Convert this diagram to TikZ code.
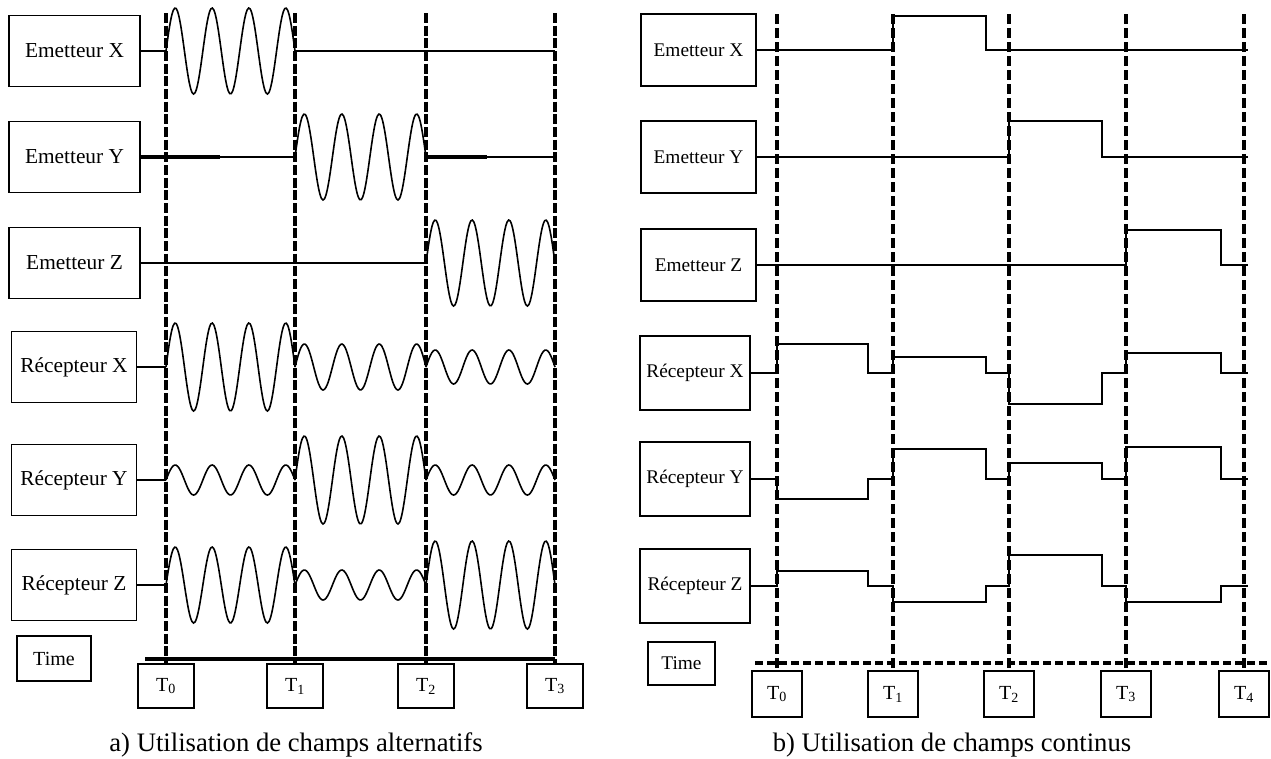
\documentclass[tikz,border=0pt]{standalone}
\usepackage{fontspec}
\setmainfont{Liberation Serif}

\begin{document}
\begin{tikzpicture}[x=0.75pt, y=-0.75pt,
        sig/.style={line width=1.2pt},
        heavy/.style={line width=2.6pt},
        box/.style={draw, line width=1.2pt, inner sep=0pt},
        lbox/.style={box, minimum height=53pt, font=\fontsize{16}{18}\selectfont},
        rbox/.style={box, minimum height=54pt, font=\fontsize{14.5}{17}\selectfont},
        tbox/.style={box, font=\fontsize{15}{17}\selectfont},
        tline/.style={line width=3pt, dash pattern=on 7.5pt off 2pt},
        captext/.style={font=\fontsize{20}{24}\selectfont, anchor=base}]
        \fill [white] (0,0) rectangle (1271,758);
        \useasboundingbox (0,0) rectangle (1271,758);
        % a) champs alternatifs
        \foreach \nm/\lab/\yc in {EX/Emetteur X/51, EY/Emetteur Y/157, EZ/Emetteur Z/263}
            \node [lbox, minimum width=98pt] (a\nm) at (74.5,\yc) {\lab};
        \foreach \nm/\lab/\yc in {RX/Récepteur X/367, RY/Récepteur Y/480, RZ/Récepteur Z/585}
            \node [lbox, minimum width=94pt] (a\nm) at (74,\yc) {\lab};
        \node [tbox, minimum width=55.5pt, minimum height=34pt] (aTime) at (54,658.5) {Time};
        \draw [line width=3pt] (145,659) -- (555,659);
        \foreach \k/\xx in {0/166, 1/295, 2/426, 3/555} {
            \node [tbox, minimum width=42pt, minimum height=33pt] (aT\k) at (\xx,686) {T\textsubscript{\k}};
            \coordinate (atop\k) at (\xx,13);
            \draw [tline] (atop\k) -- (aT\k.north);
        }
        \foreach \ta/\tb/\yc/\am in {166/295/51/43, 295/426/157/43, 426/555/263/43,
                166/295/367/44, 295/426/367/23, 426/555/367/17,
                166/295/480/15, 295/426/480/44, 426/555/480/15,
                166/295/585/38, 295/426/585/15, 426/555/585/44}
            \draw [sig] plot [domain=\ta:\tb, samples=90, smooth] (\x, {\yc-\am*sin(1260/(\tb-\ta)*(\x-\ta))});
        \draw [sig] (aEX.east) -- (166,51);
        \draw [sig] (295,51) -- (555,51);
        \draw [heavy] (aEY.east) -- (220,157);
        \draw [sig] (220,157) -- (295,157);
        \draw [heavy] (426,157) -- (487,157);
        \draw [sig] (487,157) -- (555,157);
        \draw [sig] (aEZ.east) -- (426,263);
        \foreach \nm/\yc in {RX/367, RY/480, RZ/585}
            \draw [sig] (a\nm.east) -- (166,\yc);
        \node [captext] (acap) at (296,751) {a) Utilisation de champs alternatifs};
        % b) champs continus
        \foreach \nm/\lab/\yc in {EX/Emetteur X/50, EY/Emetteur Y/157, EZ/Emetteur Z/265}
            \node [rbox, minimum width=86pt] (b\nm) at (698.5,\yc) {\lab};
        \foreach \nm/\lab/\yc in {RX/Récepteur X/373, RY/Récepteur Y/479, RZ/Récepteur Z/586}
            \node [rbox, minimum width=82.5pt, minimum height=55.5pt] (b\nm) at (695,\yc) {\lab};
        \node [tbox, minimum width=50pt, minimum height=32pt, font=\fontsize{14.5}{17}\selectfont] (bTime) at (681.5,663.5) {Time};
        \draw [line width=2.5pt, dash pattern=on 6pt off 3pt] (755,663) -- (1267,663);
        \foreach \k/\xx in {0/777, 1/893, 2/1009, 3/1126, 4/1244} {
            \node [tbox, minimum width=37.5pt, minimum height=34.5pt] (bT\k) at (\xx,694) {T\textsubscript{\k}};
            \coordinate (btop\k) at (\xx,14);
            \draw [tline, dash pattern=on 7.5pt off 3pt] (btop\k) -- (bT\k.north);
        }
        \foreach \nm/\yc/\da/\db/\dc/\dd in {EX/50/0/-34/0/0, EY/157/0/0/-36/0, EZ/265/0/0/0/-35,
                RX/373/-29/-16/31/-20, RY/479/20/-30/-16/-32, RZ/586/-15/16/-31/16}
            \draw [sig] (b\nm.east) -- (777,\yc) -- (777,{\yc+\da}) -- (868,{\yc+\da}) -- (868,\yc)
                -- (893,\yc) -- (893,{\yc+\db}) -- (986,{\yc+\db}) -- (986,\yc)
                -- (1009,\yc) -- (1009,{\yc+\dc}) -- (1102,{\yc+\dc}) -- (1102,\yc)
                -- (1126,\yc) -- (1126,{\yc+\dd}) -- (1221,{\yc+\dd}) -- (1221,\yc) -- (1248,\yc);
        \node [captext] (bcap) at (952,751) {b) Utilisation de champs continus};
\end{tikzpicture}
\end{document}
